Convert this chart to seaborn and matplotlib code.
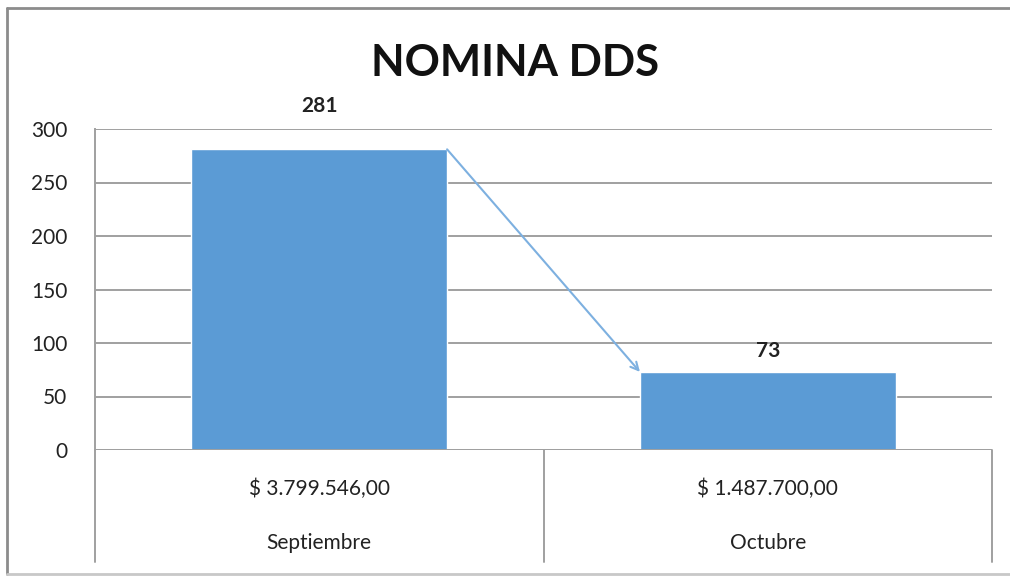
import matplotlib
matplotlib.use("Agg")
import pandas as pd
import seaborn as sns
import matplotlib.pyplot as plt
from matplotlib.lines import Line2D
from matplotlib.transforms import blended_transform_factory

meses = ["Septiembre", "Octubre"]
montos = ["$ 3.799.546,00", "$ 1.487.700,00"]
cantidad = [281, 73]

sns.set_style("white")
plt.rcParams['font.family'] = ['Lato', 'DejaVu Sans']

df = pd.DataFrame({"mes": meses, "cantidad": cantidad})

fig = plt.figure(figsize=(10.1, 5.76), dpi=100)
ax = fig.add_axes([95 / 1010, 126 / 576, 897 / 1010, 321 / 576])

sns.barplot(data=df, x="mes", y="cantidad", color="#5B9BD5", saturation=1,
            width=0.57, ax=ax, zorder=3)

ax.set_ylim(0, 300)
ax.set_xlim(-0.5, 1.5)
ax.set_yticks(range(0, 301, 50))
ax.tick_params(axis="y", labelsize=15, length=0, pad=20, labelcolor="#222222")
ax.set_xticks([])
ax.set_xlabel("")
ax.set_ylabel("")
ax.grid(axis="y", color="#A0A0A0", linewidth=1.4, zorder=0)
for s in ["top", "right", "bottom"]:
    ax.spines[s].set_visible(False)
ax.spines["left"].set_color("#A0A0A0")
ax.spines["left"].set_linewidth(1.4)

# etiquetas de datos
pads = [24, 8]
for bar, val, p in zip(ax.patches, cantidad, pads):
    ax.annotate(str(val), (bar.get_x() + bar.get_width() / 2, val),
                xytext=(0, p), textcoords="offset points", ha="center",
                va="bottom", fontsize=15, fontweight="bold", color="#222222")

# flecha entre barras
b1, b2 = ax.patches[0], ax.patches[1]
ax.annotate("", xy=(b2.get_x(), cantidad[1]),
            xytext=(b1.get_x() + b1.get_width(), cantidad[0]),
            arrowprops=dict(arrowstyle="->", color="#7DB0E0", lw=1.5,
                            mutation_scale=14, shrinkA=0, shrinkB=0), zorder=4)

# eje de categorias en dos niveles
tr = blended_transform_factory(ax.transData, ax.transAxes)
ax.axhline(0, color="#A0A0A0", lw=1.4, zorder=4)
for xd in [-0.5, 0.5, 1.5]:
    ax.plot([xd, xd], [0, -0.35], transform=tr, color="#A0A0A0", lw=1.4,
            clip_on=False)
for i, (m, mo) in enumerate(zip(meses, montos)):
    ax.text(i, -0.12, mo, transform=tr, ha="center", va="center",
            fontsize=15, color="#222222")
    ax.text(i, -0.29, m, transform=tr, ha="center", va="center",
            fontsize=15, color="#222222")

fig.text(515 / 1010, 1 - 63 / 576, "NOMINA DDS", ha="center", va="center",
         fontsize=31.5, fontweight="bold", color="#111111")

# marco del grafico
W, H = 1010, 576
fig.lines.append(Line2D([7 / W, 1], [1 - 8 / H, 1 - 8 / H],
                        transform=fig.transFigure, color="#8C8C8C", lw=2))
fig.lines.append(Line2D([7 / W, 7 / W], [1 - 8 / H, 1 - 574 / H],
                        transform=fig.transFigure, color="#8C8C8C", lw=2))
fig.lines.append(Line2D([7 / W, 1], [1 - 574 / H, 1 - 574 / H],
                        transform=fig.transFigure, color="#C8C8C8", lw=2))

fig.savefig("out.png", dpi=100)
